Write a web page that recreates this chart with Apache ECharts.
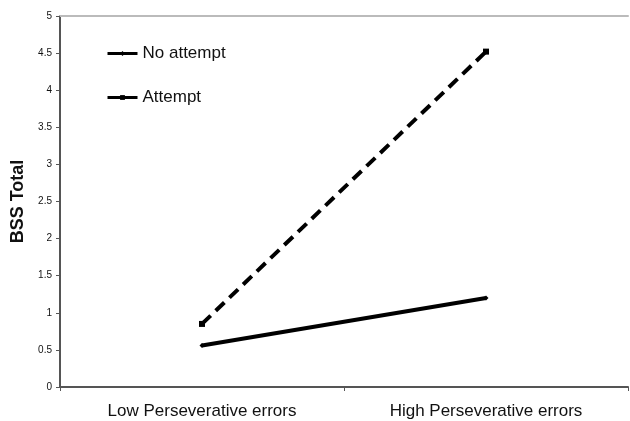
<!DOCTYPE html>
<html>
<head>
<meta charset="utf-8">
<script src="https://cdn.jsdelivr.net/npm/echarts@6/dist/echarts.min.js"></script>
<style>
  html, body { margin: 0; padding: 0; background: #fff; }
  #chart { width: 630px; height: 421px; }
</style>
</head>
<body>
<div id="chart"></div>
<script>
// groups on the x axis
var categories = ['Low Perseverative errors', 'High Perseverative errors'];
// BSS Total per group
var noAttempt = [0.56, 1.2];
var attempt = [0.85, 4.52];
var yTicks = [0, 0.5, 1, 1.5, 2, 2.5, 3, 3.5, 4, 4.5, 5];

var myChart = echarts.init(document.getElementById('chart'));
var option = {
    backgroundColor: '#fff',
    animation: false,
    grid: { left: 60, right: 2, top: 16, bottom: 34 },
    legend: {
        orient: 'vertical',
        left: 101,
        top: 40,
        itemGap: 27,
        itemWidth: 30,
        itemHeight: 6,
        lineStyle: { width: 3 },
        textStyle: { fontFamily: 'Liberation Sans, Arial', fontSize: 17, color: '#111' },
        data: [
            { name: 'No attempt' },
            { name: 'Attempt', lineStyle: { type: 'solid', width: 3 } }
        ]
    },
    xAxis: [{
        type: 'category',
        data: categories,
        boundaryGap: true,
        axisLine: { lineStyle: { color: '#555', width: 2 } },
        axisTick: { show: true, length: 4, lineStyle: { color: '#555' } },
        axisLabel: { fontFamily: 'Liberation Sans, Arial', fontSize: 17, color: '#111', margin: 16 }
    }, {
        type: 'category',
        position: 'top',
        data: categories,
        axisLine: { lineStyle: { color: '#bbb', width: 2 } },
        axisTick: { show: false },
        axisLabel: { show: false }
    }],
    yAxis: {
        type: 'value',
        min: yTicks[0],
        max: yTicks[yTicks.length - 1],
        interval: 0.5,
        name: 'BSS Total',
        nameLocation: 'middle',
        nameGap: 28,
        nameTextStyle: { fontFamily: 'Liberation Sans, Arial', fontSize: 18, fontWeight: 'bold', color: '#111' },
        axisLine: { show: true, lineStyle: { color: '#555', width: 2 } },
        axisTick: { show: true, inside: false, length: 4, lineStyle: { color: '#555' } },
        axisLabel: { fontFamily: 'Liberation Sans, Arial', fontSize: 10, color: '#111', margin: 8 },
        splitLine: { show: false }
    },
    series: [{
        name: 'No attempt',
        type: 'line',
        data: noAttempt,
        symbol: 'diamond',
        symbolSize: 5,
        itemStyle: { color: '#000' },
        lineStyle: { color: '#000', width: 4 }
    }, {
        name: 'Attempt',
        type: 'line',
        data: attempt,
        symbol: 'rect',
        symbolSize: 6,
        itemStyle: { color: '#000' },
        lineStyle: { color: '#000', width: 4, type: [12, 7] }
    }]
};
myChart.setOption(option);
</script>
</body>
</html>
